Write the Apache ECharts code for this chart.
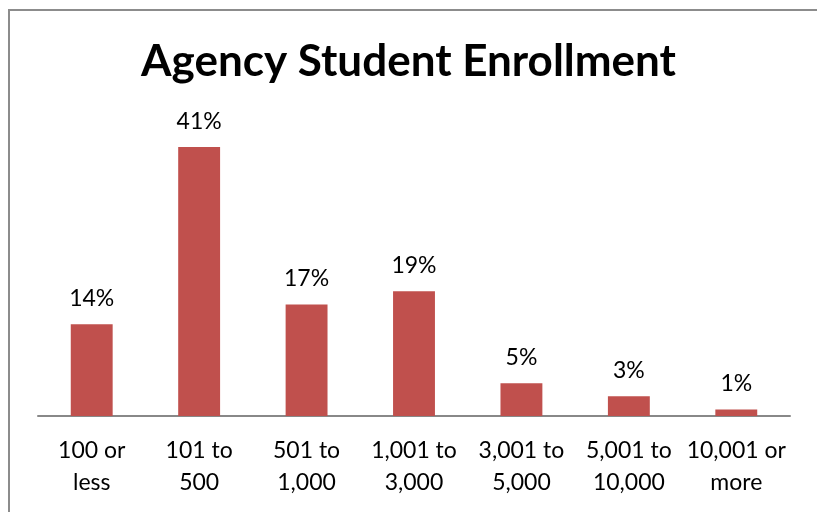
<!DOCTYPE html>
<html>
<head>
<meta charset="utf-8">
<script src="https://cdn.jsdelivr.net/npm/echarts@6/dist/echarts.min.js"></script>
<style>
  html, body { margin: 0; padding: 0; background: #fff; }
  #main { width: 817px; height: 512px; }
</style>
</head>
<body>
<div id="main"></div>
<script>
var categories = ['100 or\nless', '101 to\n500', '501 to\n1,000', '1,001 to\n3,000', '3,001 to\n5,000', '5,001 to\n10,000', '10,001 or\nmore'];
var shares = [14, 41, 17, 19, 5, 3, 1];

var myChart = echarts.init(document.getElementById('main'));
var option = {
  animation: false,
  textStyle: { fontFamily: 'Lato' },
  graphic: [{
    type: 'rect',
    shape: { x: 9, y: 10, width: 830, height: 520 },
    style: { fill: 'none', stroke: '#8c8c8c', lineWidth: 2 }
  }],
  title: {
    text: 'Agency Student Enrollment',
    left: 'center',
    top: 35,
    textStyle: { fontSize: 44, fontWeight: 'bold', color: '#000', fontFamily: 'Lato' }
  },
  grid: { left: 38, right: 27, top: 88, bottom: 96 },
  xAxis: {
    type: 'category',
    data: categories,
    axisLine: { lineStyle: { color: '#888', width: 2 } },
    axisTick: { show: false },
    axisLabel: { color: '#000', fontSize: 23, lineHeight: 32, margin: 19, interval: 0 }
  },
  yAxis: {
    type: 'value',
    min: 0,
    max: 50,
    show: false,
    splitLine: { show: false }
  },
  series: [{
    type: 'bar',
    data: shares,
    barWidth: '39%',
    itemStyle: { color: '#C0504D' },
    label: {
      show: true,
      position: 'top',
      distance: 14,
      formatter: '{c}%',
      color: '#000',
      fontSize: 23
    }
  }]
};
myChart.setOption(option);
</script>
</body>
</html>
